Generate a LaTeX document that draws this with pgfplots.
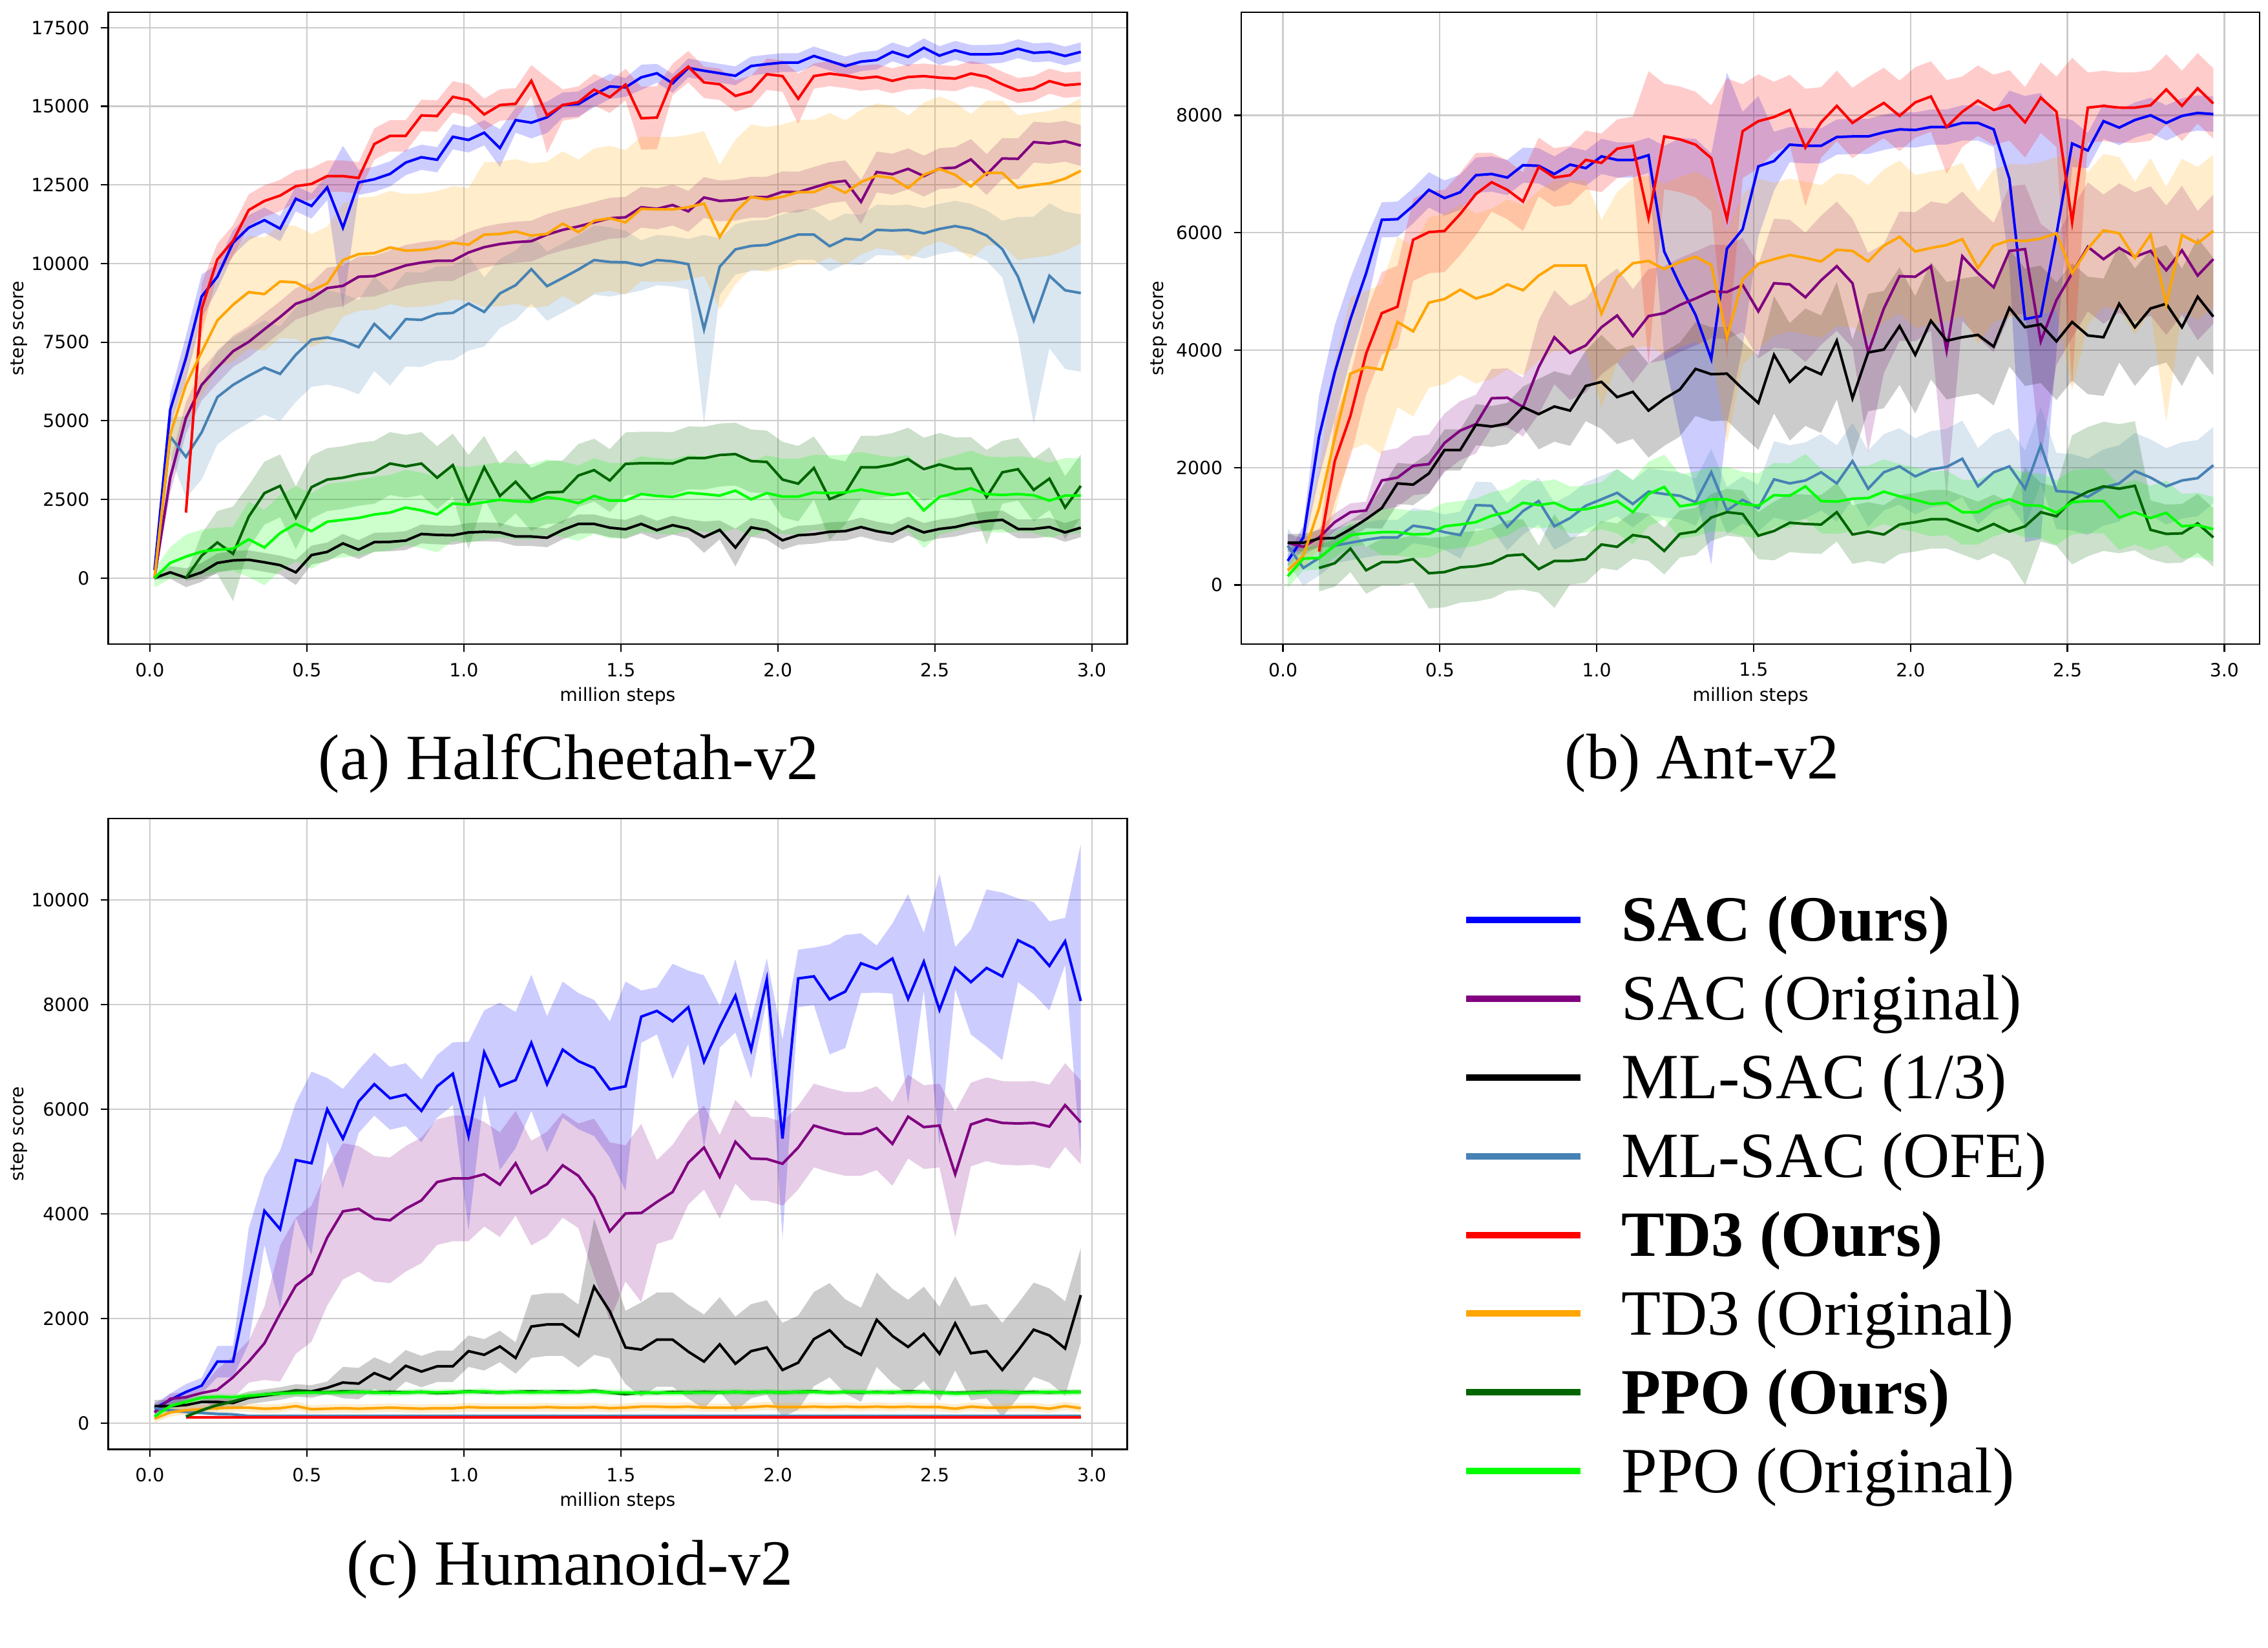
\documentclass[border=0pt]{standalone}
\usepackage{fontspec}
\setmainfont{Liberation Serif}
\newfontfamily\dvs{DejaVu Sans}
\usepackage{pgfplots}
\pgfplotsset{compat=1.18}
\usepackage{pgfplotstable}
\usepgfplotslibrary{fillbetween}
\definecolor{cSACo}{RGB}{0,0,255}
\definecolor{cSACb}{RGB}{128,0,128}
\definecolor{cMLa}{RGB}{0,0,0}
\definecolor{cMLb}{RGB}{70,130,180}
\definecolor{cTDo}{RGB}{255,0,0}
\definecolor{cTDb}{RGB}{255,165,0}
\definecolor{cPPo}{RGB}{0,100,0}
\definecolor{cPPb}{RGB}{0,255,0}

% columns: x, mean/spread for SAC(Ours), SAC(Orig), ML-SAC(1/3), ML-SAC(OFE), TD3(Ours), TD3(Orig), PPO(Ours), PPO(Orig)
\pgfplotstableread[row sep=\\]{
x m1 s1 m2 s2 m3 s3 m4 s4 m5 s5 m6 s6 m7 s7 m8 s8 \\
0.015 250 100 0 100 0 50 0 100 0 0 0 100 0 0 0 300 \\
0.065 5350 500 3190 500 180 200 4500 600 0 0 4570 900 0 0 480 500 \\
0.115 6990 700 5090 500 10 300 3850 1300 2080 200 6140 1200 0 100 680 700 \\
0.165 8950 700 6140 500 180 300 4630 1500 8560 800 7190 1400 710 700 840 700 \\
0.215 9580 400 6690 500 480 300 5750 1500 10130 500 8190 1500 1130 1000 900 700 \\
0.265 10660 400 7210 500 560 300 6140 1500 10720 500 8690 1800 770 1500 930 700 \\
0.315 11140 400 7510 500 580 300 6430 1500 11700 500 9090 1800 1950 1000 1230 1200 \\
0.365 11380 400 7910 500 500 300 6690 1500 11990 500 9030 1800 2700 1000 970 1200 \\
0.415 11110 400 8300 500 410 300 6490 1500 12160 500 9430 1800 2930 1000 1430 1200 \\
0.465 12060 400 8720 500 180 400 7100 1500 12460 500 9400 1800 1920 1000 1720 1200 \\
0.515 11830 400 8890 500 730 300 7580 1500 12530 500 9140 1800 2890 1000 1490 1200 \\
0.565 12420 400 9220 650 830 300 7650 1500 12780 500 9370 1800 3130 1000 1790 1200 \\
0.615 11140 2600 9290 650 1100 300 7540 1500 12780 500 10110 1800 3190 1000 1850 1200 \\
0.665 12580 400 9580 650 900 300 7340 1500 12720 500 10300 1800 3300 1000 1910 1200 \\
0.715 12680 400 9600 650 1140 300 8080 1500 13800 500 10330 1800 3360 1000 2020 1200 \\
0.765 12850 400 9770 650 1150 300 7620 1500 14060 500 10510 1800 3640 1000 2080 1200 \\
0.815 13210 400 9940 650 1190 300 8230 1500 14060 500 10410 1800 3550 1000 2240 1200 \\
0.865 13380 400 10030 650 1400 300 8210 1500 14710 500 10430 1800 3640 1000 2150 1200 \\
0.915 13300 400 10090 650 1370 300 8400 1500 14690 500 10500 1800 3190 1000 2020 1200 \\
0.965 14030 400 10090 650 1360 300 8430 1500 15300 500 10660 1800 3590 1000 2370 1200 \\
1.015 13930 400 10350 650 1450 300 8730 1500 15200 500 10600 1800 2410 1500 2330 1200 \\
1.065 14160 400 10520 650 1470 300 8460 1100 14740 500 10920 2300 3520 1000 2410 1200 \\
1.115 13670 600 10620 650 1450 300 9050 1100 15040 500 10940 2300 2610 1000 2490 1200 \\
1.165 14560 400 10680 650 1320 300 9310 1100 15080 500 11020 2300 3060 1000 2440 1200 \\
1.215 14480 500 10710 650 1320 300 9820 1100 15810 500 10890 2300 2500 1000 2420 1200 \\
1.265 14650 500 10920 650 1280 300 9280 1100 14710 1200 10940 2300 2720 1000 2570 1200 \\
1.315 15040 400 11070 650 1530 300 9540 1100 15040 500 11270 2300 2740 1000 2500 1200 \\
1.365 15070 400 11180 650 1720 300 9810 1100 15130 500 11000 2300 3260 1000 2380 1200 \\
1.415 15370 400 11310 650 1720 300 10110 1100 15530 500 11360 2300 3430 1000 2610 1200 \\
1.465 15630 400 11440 650 1600 300 10050 1100 15290 500 11440 2300 3100 1000 2460 1200 \\
1.515 15600 300 11470 650 1550 300 10040 1000 15690 500 11310 2300 3630 1000 2460 1200 \\
1.565 15920 400 11790 650 1720 300 9940 800 14620 1000 11740 2300 3650 1000 2670 1200 \\
1.615 16050 300 11740 650 1520 300 10110 800 14640 1000 11720 2300 3650 1000 2610 1200 \\
1.665 15730 300 11860 650 1680 300 10070 800 15850 500 11720 2300 3640 1000 2580 1200 \\
1.715 16220 300 11660 650 1570 300 9980 800 16260 500 11790 2300 3820 1000 2710 1200 \\
1.765 16130 300 12100 650 1300 500 7910 3000 15760 500 11910 2300 3810 1000 2670 1200 \\
1.815 16050 300 11990 650 1530 300 9900 900 15700 500 10840 2300 3910 1000 2620 1200 \\
1.865 15970 300 12020 650 970 600 10450 800 15330 500 11640 2300 3940 1000 2780 1200 \\
1.915 16280 300 12110 650 1610 300 10560 800 15470 500 12120 2300 3720 1000 2500 1200 \\
1.965 16340 300 12110 650 1520 300 10590 800 16020 500 12040 2300 3690 1000 2700 1200 \\
2.015 16390 300 12280 650 1200 300 10760 800 15960 500 12120 2300 3130 1200 2590 1200 \\
2.065 16390 300 12270 650 1360 300 10920 800 15240 800 12270 2300 3000 1200 2590 1200 \\
2.115 16600 300 12420 650 1390 300 10920 800 15960 400 12270 2300 3500 1000 2720 1200 \\
2.165 16440 300 12570 650 1470 300 10550 800 16040 400 12490 2300 2510 1300 2700 1200 \\
2.215 16280 300 12630 650 1490 300 10790 800 15980 400 12250 2300 2710 1000 2720 1200 \\
2.265 16420 300 11960 700 1620 300 10750 800 15890 400 12590 2300 3520 1000 2810 1200 \\
2.315 16470 300 12910 650 1490 300 11070 800 15940 400 12790 2300 3520 1000 2710 1200 \\
2.365 16730 300 12840 650 1410 300 11050 800 15810 400 12720 2300 3610 1000 2640 1200 \\
2.415 16570 300 13010 650 1650 300 11070 800 15930 400 12400 2300 3780 1000 2710 1200 \\
2.465 16860 300 12780 650 1450 300 10960 800 15960 400 12820 2300 3460 1000 2150 1200 \\
2.515 16610 300 13020 650 1560 300 11100 800 15910 400 13010 2300 3610 1000 2580 1200 \\
2.565 16780 300 13050 650 1620 300 11190 800 15880 400 12820 2300 3470 1000 2700 1200 \\
2.615 16650 300 13310 650 1740 300 11100 800 16040 400 12450 2300 3480 1000 2850 1200 \\
2.665 16650 300 12830 650 1810 300 10890 800 15940 400 12880 2300 2570 1500 2670 1200 \\
2.715 16680 300 13340 650 1850 300 10460 900 15700 400 12880 2300 3360 1000 2640 1200 \\
2.765 16830 300 13330 650 1560 300 9580 1900 15500 400 12410 2300 3460 1000 2670 1200 \\
2.815 16700 300 13860 650 1560 300 8190 3300 15560 400 12490 2300 2800 1000 2630 1200 \\
2.865 16730 300 13820 650 1620 300 9610 2300 15800 400 12550 2300 3160 1000 2460 1200 \\
2.915 16600 300 13890 650 1450 300 9150 2500 15670 400 12700 2300 2240 1000 2620 1200 \\
2.965 16730 300 13750 650 1600 300 9060 2500 15710 400 12950 2300 2930 1000 2620 1200 \\
}\tA

\pgfplotstableread[row sep=\\]{
x m1 s1 m2 s2 m3 s3 m4 s4 m5 s5 m6 s6 m7 s7 m8 s8 \\
0.015 410 100 720 150 720 150 670 300 0 0 250 100 0 0 150 200 \\
0.065 810 200 650 150 720 150 290 300 0 0 500 200 0 0 450 200 \\
0.115 2530 700 810 150 790 150 460 300 570 200 1310 700 290 400 460 200 \\
0.165 3620 800 1070 150 800 150 670 300 2110 700 2500 1300 370 400 670 200 \\
0.215 4530 700 1240 150 950 150 720 300 2880 700 3600 1300 620 400 850 200 \\
0.265 5310 600 1270 150 1120 150 770 300 3940 700 3710 1300 250 400 880 200 \\
0.315 6220 300 1780 500 1310 350 810 300 4630 700 3670 1450 390 400 900 400 \\
0.365 6230 300 1830 500 1730 350 810 300 4740 700 4480 1450 390 400 900 400 \\
0.415 6460 300 2030 500 1710 350 1010 300 5880 700 4320 1450 440 400 860 400 \\
0.465 6730 300 2060 500 1900 350 970 300 6010 700 4810 1450 200 600 870 400 \\
0.515 6590 300 2420 500 2300 350 900 300 6030 700 4870 1450 220 600 1000 400 \\
0.565 6690 300 2630 500 2300 350 850 400 6320 700 5030 1450 300 600 1030 400 \\
0.615 6980 300 2740 500 2730 350 1360 400 6660 700 4880 1450 320 600 1070 400 \\
0.665 7000 300 3180 500 2700 350 1350 400 6860 500 4960 1450 370 600 1180 400 \\
0.715 6940 300 3190 500 2750 350 990 400 6730 500 5120 1450 500 600 1240 400 \\
0.765 7150 300 3030 500 3030 350 1260 400 6530 500 5020 1450 520 600 1400 400 \\
0.815 7140 300 3710 800 2910 600 1430 400 7120 500 5270 1450 270 400 1360 400 \\
0.865 7000 300 4220 800 3040 600 1000 400 6940 500 5440 1450 410 800 1400 400 \\
0.915 7160 300 3950 800 2970 600 1140 400 6980 500 5440 1450 410 400 1280 400 \\
0.965 7100 300 4080 800 3390 600 1350 400 7240 500 5440 1450 440 400 1290 400 \\
1.015 7300 300 4390 800 3460 800 1460 400 7190 500 4620 1600 690 400 1350 400 \\
1.065 7240 300 4590 800 3200 800 1570 400 7430 500 5240 1450 650 400 1430 550 \\
1.115 7240 300 4240 800 3290 800 1380 400 7480 500 5480 1450 850 400 1240 550 \\
1.165 7320 300 4580 800 2970 800 1590 400 6250 2500 5520 1450 810 400 1550 550 \\
1.215 5680 1800 4630 800 3170 800 1550 400 7640 900 5380 1450 580 400 1670 550 \\
1.265 5110 2500 4770 800 3330 800 1520 400 7590 900 5500 1450 870 400 1340 550 \\
1.315 4600 3000 4880 800 3680 800 1410 400 7500 900 5590 1450 910 400 1380 550 \\
1.365 3850 3500 5000 800 3590 800 1920 400 7270 900 5450 1450 1150 400 1460 550 \\
1.415 5730 3000 4990 800 3600 800 1270 400 6230 2400 4220 1800 1240 400 1460 550 \\
1.465 6060 2000 5110 800 3340 800 1450 400 7730 800 5200 1450 1210 400 1380 550 \\
1.515 7130 1200 4660 800 3100 800 1310 400 7900 800 5470 1450 840 400 1350 550 \\
1.565 7220 500 5140 1100 3920 1000 1800 650 7970 600 5550 1300 920 500 1530 550 \\
1.615 7500 300 5120 1100 3460 1000 1730 650 8090 600 5620 1300 1060 500 1520 550 \\
1.665 7480 300 4900 1100 3710 1000 1780 650 7450 1000 5570 1300 1040 500 1680 550 \\
1.715 7480 300 5190 1100 3590 1000 1920 650 7880 600 5510 1300 1030 500 1430 550 \\
1.765 7630 300 5430 1100 4160 1000 1730 650 8160 600 5710 1300 1240 500 1420 550 \\
1.815 7640 300 5140 1100 3180 1000 2110 650 7870 600 5690 1300 860 500 1470 550 \\
1.865 7640 300 3960 1700 3960 1000 1640 650 8050 600 5510 1300 910 500 1480 550 \\
1.915 7710 300 4710 1100 4010 1000 1920 650 8210 600 5780 1300 860 500 1590 550 \\
1.965 7760 300 5260 1100 4410 1000 2020 650 7990 600 5930 1300 1030 500 1510 550 \\
2.015 7750 300 5250 1100 3920 1000 1850 650 8220 600 5680 1300 1070 500 1450 550 \\
2.065 7800 300 5430 1100 4500 1000 1970 650 8320 600 5740 1300 1120 500 1380 550 \\
2.115 7800 300 3990 2500 4160 1000 2010 650 7800 800 5790 1300 1120 500 1400 550 \\
2.165 7870 300 5600 1100 4220 1000 2150 650 8060 600 5890 1300 1020 500 1240 550 \\
2.215 7870 300 5310 1100 4260 1000 1680 650 8250 600 5400 1300 920 500 1240 550 \\
2.265 7760 300 5070 1100 4060 1000 1920 650 8090 600 5780 1300 1040 500 1380 550 \\
2.315 6920 1500 5690 1100 4720 1000 2020 650 8170 600 5870 1300 910 500 1460 550 \\
2.365 4530 3800 5720 1100 4390 1000 1640 650 7880 600 5860 1300 1000 1000 1360 550 \\
2.415 4580 3800 4150 2000 4440 1000 2380 650 8300 600 5900 1300 1240 500 1350 550 \\
2.465 5970 2000 4850 1100 4150 1000 1600 650 8060 600 5990 1300 1170 500 1230 550 \\
2.515 7520 400 5310 1100 4480 1000 1580 650 6180 2800 5310 2000 1450 1100 1410 550 \\
2.565 7400 300 5760 1100 4250 1000 1500 650 8130 600 5730 1300 1590 1100 1430 550 \\
2.615 7900 300 5550 1100 4220 1000 1660 650 8160 600 6040 1300 1680 1100 1430 550 \\
2.665 7790 300 5740 1100 4790 1000 1730 650 8130 600 5990 1300 1640 1100 1150 550 \\
2.715 7920 300 5590 1100 4390 1000 1940 650 8130 600 5570 1300 1690 1100 1240 550 \\
2.765 8000 300 5690 1100 4710 1000 1830 650 8170 600 5970 1300 940 500 1140 550 \\
2.815 7870 300 5360 1100 4790 1000 1680 650 8440 600 4780 2000 870 500 1230 550 \\
2.865 7990 300 5700 1100 4390 1000 1780 650 8160 600 5960 1300 880 500 1000 550 \\
2.915 8040 300 5270 1100 4910 1000 1820 650 8460 600 5820 1300 1050 500 1020 550 \\
2.965 8020 300 5550 1100 4570 1000 2040 650 8200 600 6030 1300 810 500 950 550 \\
}\tB

\pgfplotstableread[row sep=\\]{
x m1 s1 m2 s2 m3 s3 m4 s4 m5 s5 m6 s6 m7 s7 m8 s8 \\
0.015 280 100 210 100 330 120 290 40 0 0 90 80 0 0 130 60 \\
0.065 450 120 470 100 330 120 250 40 0 0 210 80 0 0 330 60 \\
0.115 600 150 500 100 350 120 220 40 110 20 250 80 130 40 410 60 \\
0.165 720 150 580 100 410 120 200 40 110 20 270 80 250 40 490 60 \\
0.215 1180 300 640 400 410 120 180 40 110 20 290 80 350 40 510 60 \\
0.265 1180 300 880 400 390 120 170 40 110 20 300 80 420 40 500 60 \\
0.315 2630 1100 1180 400 490 120 140 40 110 20 300 80 500 40 530 60 \\
0.365 4060 650 1530 700 530 120 140 40 110 20 280 80 550 40 550 60 \\
0.415 3710 1500 2100 1300 570 120 140 40 110 20 290 80 580 40 570 60 \\
0.465 5030 1100 2630 1300 630 120 140 40 110 20 330 80 620 40 580 60 \\
0.515 4970 1750 2860 1300 610 120 140 40 110 20 270 80 600 40 590 60 \\
0.565 6000 600 3550 1300 680 120 140 40 110 20 280 80 590 40 590 60 \\
0.615 5440 950 4050 1300 780 300 140 40 110 20 290 80 610 40 590 60 \\
0.665 6150 600 4100 1200 760 300 140 40 110 20 280 80 600 40 600 60 \\
0.715 6480 600 3910 1200 960 300 140 40 110 20 290 80 590 40 590 60 \\
0.765 6210 600 3880 1200 840 300 140 40 110 20 300 80 600 40 580 60 \\
0.815 6280 600 4100 1200 1100 300 140 40 110 20 290 80 590 40 590 60 \\
0.865 5970 600 4260 1200 990 300 140 40 110 20 280 80 600 40 600 60 \\
0.915 6440 600 4610 1200 1090 300 140 40 110 20 290 80 580 40 590 60 \\
0.965 6680 600 4680 1200 1090 300 140 40 110 20 290 80 590 40 600 60 \\
1.015 5490 1800 4680 1200 1380 300 140 40 110 20 310 80 610 40 600 60 \\
1.065 7090 800 4760 1000 1310 300 140 40 110 20 300 80 600 40 610 60 \\
1.115 6440 1600 4560 1000 1470 300 140 40 110 20 300 80 590 40 590 60 \\
1.165 6560 1300 4970 1000 1250 300 140 40 110 20 300 80 600 40 600 60 \\
1.215 7270 1300 4400 1000 1850 600 140 40 110 20 300 80 610 40 590 60 \\
1.265 6480 1300 4570 1000 1890 600 140 40 110 20 310 80 600 40 600 60 \\
1.315 7140 1300 4930 1000 1890 600 140 40 110 20 300 80 610 40 590 60 \\
1.365 6920 1300 4730 1000 1670 600 140 40 110 20 300 80 600 40 600 60 \\
1.415 6790 1300 4320 1500 2610 1300 140 40 110 20 310 80 620 40 610 60 \\
1.465 6380 1300 3670 1700 2140 900 140 40 110 20 290 80 590 40 590 60 \\
1.515 6440 2000 4010 1300 1450 700 140 40 110 20 300 80 560 40 590 60 \\
1.565 7770 500 4020 1700 1410 900 140 40 110 20 320 80 590 40 580 60 \\
1.615 7880 450 4230 800 1600 900 140 40 110 20 320 80 580 40 590 60 \\
1.665 7680 1100 4420 900 1600 900 140 40 110 20 310 80 600 40 580 60 \\
1.715 7950 700 4980 800 1370 900 140 40 110 20 320 80 590 40 590 60 \\
1.765 6910 1650 5270 800 1180 900 140 40 110 20 300 80 600 40 590 60 \\
1.815 7580 400 4710 800 1510 900 140 40 110 20 300 80 590 40 590 60 \\
1.865 8170 700 5380 800 1140 900 140 40 110 20 300 80 600 40 600 60 \\
1.915 7140 550 5060 800 1380 900 140 40 110 20 310 80 590 40 590 60 \\
1.965 8480 400 5050 800 1450 900 140 40 110 20 330 80 600 40 600 60 \\
2.015 5440 1900 4960 800 1020 900 140 40 110 20 310 80 590 40 590 60 \\
2.065 8500 550 5270 800 1160 900 140 40 110 20 310 80 600 40 600 60 \\
2.115 8540 550 5690 800 1610 900 140 40 110 20 320 80 610 40 600 60 \\
2.165 8100 1050 5600 800 1780 900 140 40 110 20 310 80 590 40 590 60 \\
2.215 8250 1080 5530 800 1470 900 140 40 110 20 320 80 600 40 600 60 \\
2.265 8790 570 5530 800 1310 900 140 40 110 20 310 80 590 40 600 60 \\
2.315 8680 450 5640 800 1980 900 140 40 110 20 320 80 600 40 590 60 \\
2.365 8880 670 5340 800 1670 900 140 40 110 20 310 80 590 40 600 60 \\
2.415 8110 2000 5860 800 1460 900 140 40 110 20 320 80 610 40 590 60 \\
2.465 8820 550 5660 800 1710 900 140 40 110 20 310 80 600 40 600 60 \\
2.515 7900 2600 5690 800 1330 900 140 40 110 20 310 80 590 40 590 60 \\
2.565 8700 400 4760 1200 1910 900 140 40 110 20 280 80 580 40 570 60 \\
2.615 8430 1000 5710 800 1340 900 140 40 110 20 320 80 590 40 580 60 \\
2.665 8700 1500 5810 800 1380 900 140 40 110 20 300 80 600 40 590 60 \\
2.715 8540 1600 5740 800 1020 900 140 40 110 20 300 80 600 40 600 60 \\
2.765 9230 800 5730 800 1390 900 140 40 110 20 310 80 590 40 590 60 \\
2.815 9080 880 5740 800 1790 900 140 40 110 20 310 80 600 40 590 60 \\
2.865 8740 850 5670 800 1680 900 140 40 110 20 280 80 590 40 600 60 \\
2.915 9210 450 6080 800 1430 900 140 40 110 20 330 80 600 40 590 60 \\
2.965 8070 3000 5750 800 2450 900 140 40 110 20 290 80 600 40 600 60 \\
}\tC

\newcommand{\band}[5]{%
\addplot[draw=none, name path=#4u#2, forget plot, #5] table[x=x, y expr=\thisrow{m#2}+\thisrow{s#2}]{#1};
\addplot[draw=none, name path=#4l#2, forget plot, #5] table[x=x, y expr=\thisrow{m#2}-\thisrow{s#2}]{#1};
\addplot[fill=#3, fill opacity=0.2, draw=none, forget plot] fill between[of=#4u#2 and #4l#2];
}
\newcommand{\mean}[4]{%
\addplot[color=#3, line width=0.8pt, forget plot, #4] table[x=x, y=m#2]{#1};
}
\newcommand{\allseries}[2]{%
\band{#1}{1}{cSACo}{#2}{}
\band{#1}{2}{cSACb}{#2}{}
\band{#1}{3}{cMLa}{#2}{}
\band{#1}{4}{cMLb}{#2}{}
\band{#1}{5}{cTDo}{#2}{restrict x to domain=0.1:4}
\band{#1}{6}{cTDb}{#2}{}
\band{#1}{7}{cPPo}{#2}{restrict x to domain=0.1:4}
\band{#1}{8}{cPPb}{#2}{}
\mean{#1}{1}{cSACo}{}
\mean{#1}{2}{cSACb}{}
\mean{#1}{3}{cMLa}{}
\mean{#1}{4}{cMLb}{}
\mean{#1}{5}{cTDo}{restrict x to domain=0.1:4}
\mean{#1}{6}{cTDb}{}
\mean{#1}{7}{cPPo}{restrict x to domain=0.1:4}
\mean{#1}{8}{cPPb}{}
}

\pgfplotsset{common/.style={
  anchor=north west, scale only axis,
  xmin=-0.1325, xmax=3.1125,
  xtick={0,0.5,1,1.5,2,2.5,3},
  xticklabels={0.0,0.5,1.0,1.5,2.0,2.5,3.0},
  tick align=outside, tick pos=left, major tick length=2.3pt,
  grid=major, major grid style={line width=0.45pt, color=black!20},
  axis line style={line width=0.5pt},
  tick style={line width=0.45pt, black},
  tick label style={font=\dvs\fontsize{5.66}{6.8}\selectfont},
  label style={font=\dvs\fontsize{5.66}{6.8}\selectfont},
  /pgf/number format/assume math mode=true,
  scaled ticks=false,
  xlabel={million steps}, ylabel={step score},
  xlabel style={at={(axis description cs:0.5,-0.082)}, anchor=center},
}}

\begin{document}
\begin{tikzpicture}
\path (0pt,0pt) rectangle (702pt,-510.4pt);

\begin{axis}[common, at={(33pt,-3.8pt)}, width=315.6pt, height=195.8pt,
  ymin=-2106, ymax=17990,
  ytick={0,2500,5000,7500,10000,12500,15000,17500},
  yticklabels={0,2500,5000,7500,10000,12500,15000,17500},
  ylabel style={at={(axis description cs:-0.0875,0.5)}, anchor=center}]
\allseries{\tA}{a}
\end{axis}

\begin{axis}[common, at={(384pt,-3.8pt)}, width=315.4pt, height=195.8pt,
  ymin=-1009, ymax=9755,
  ytick={0,2000,4000,6000,8000},
  yticklabels={0,2000,4000,6000,8000},
  ylabel style={at={(axis description cs:-0.081,0.5)}, anchor=center}]
\allseries{\tB}{b}
\end{axis}

\begin{axis}[common, at={(33pt,-253.6pt)}, width=315.6pt, height=195.4pt,
  ymin=-494, ymax=11555,
  ytick={0,2000,4000,6000,8000,10000},
  yticklabels={0,2000,4000,6000,8000,10000},
  ylabel style={at={(axis description cs:-0.0875,0.5)}, anchor=center}]
\allseries{\tC}{c}
\end{axis}

\node[font=\fontsize{20}{24}\selectfont] at (175.6pt,-236.5pt) {(a) HalfCheetah-v2};
\node[font=\fontsize{20}{24}\selectfont] at (526.7pt,-236.5pt) {(b) Ant-v2};
\node[font=\fontsize{20}{24}\selectfont] at (176pt,-486.3pt) {(c) Humanoid-v2};

\begin{axis}[at={(0pt,0pt)}, anchor=north west, scale only axis,
  width=702pt, height=510.4pt, hide axis,
  xmin=0, xmax=1, ymin=0, ymax=1,
  legend cell align=left,
  legend style={at={(axis description cs:0.6444,0.4628)}, anchor=north west,
    draw=none, fill=none, inner sep=0pt, row sep=3.2pt,
    font=\fontsize{20}{24}\selectfont,
    nodes={inner sep=1pt, text height=16.2pt, text depth=3pt},
    /tikz/every odd column/.append style={column sep=10.8pt}}]
\addlegendimage{legend image code/.code={\draw[cSACo, line width=2pt] (0pt,0pt) -- (35.4pt,0pt);}}
\addlegendentry{\textbf{SAC (Ours)}}
\addlegendimage{legend image code/.code={\draw[cSACb, line width=2pt] (0pt,0pt) -- (35.4pt,0pt);}}
\addlegendentry{SAC (Original)}
\addlegendimage{legend image code/.code={\draw[cMLa, line width=2pt] (0pt,0pt) -- (35.4pt,0pt);}}
\addlegendentry{ML-SAC (1/3)}
\addlegendimage{legend image code/.code={\draw[cMLb, line width=2pt] (0pt,0pt) -- (35.4pt,0pt);}}
\addlegendentry{ML-SAC (OFE)}
\addlegendimage{legend image code/.code={\draw[cTDo, line width=2pt] (0pt,0pt) -- (35.4pt,0pt);}}
\addlegendentry{\textbf{TD3 (Ours)}}
\addlegendimage{legend image code/.code={\draw[cTDb, line width=2pt] (0pt,0pt) -- (35.4pt,0pt);}}
\addlegendentry{TD3 (Original)}
\addlegendimage{legend image code/.code={\draw[cPPo, line width=2pt] (0pt,0pt) -- (35.4pt,0pt);}}
\addlegendentry{\textbf{PPO (Ours)}}
\addlegendimage{legend image code/.code={\draw[cPPb, line width=2pt] (0pt,0pt) -- (35.4pt,0pt);}}
\addlegendentry{PPO (Original)}
\end{axis}
\end{tikzpicture}
\end{document}
